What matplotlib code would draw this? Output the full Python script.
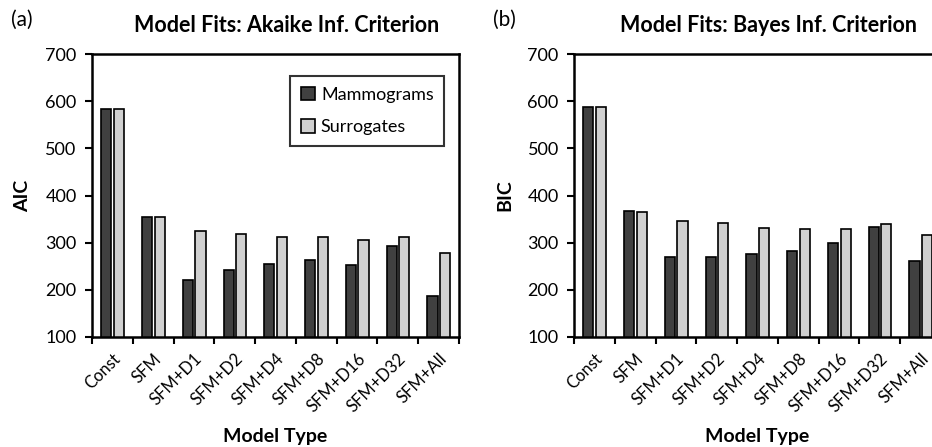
import matplotlib.pyplot as plt
import numpy as np

plt.rcParams['font.family'] = ['Lato', 'DejaVu Sans']

# datos
modelos = ["Const", "SFM", "SFM+D1", "SFM+D2", "SFM+D4", "SFM+D8", "SFM+D16", "SFM+D32", "SFM+All"]
aic_mamo = [583, 355, 220, 241, 255, 263, 253, 294, 187]
aic_surr = [583, 355, 325, 318, 311, 311, 305, 311, 279]
bic_mamo = [587, 368, 270, 270, 275, 283, 299, 334, 261]
bic_surr = [587, 366, 347, 341, 331, 328, 329, 340, 316]

oscuro = "#404040"
claro = "#d0d0d0"

fig = plt.figure(figsize=(9.32, 4.47), dpi=100)
ax1 = fig.add_axes([0.0987, 0.2461, 0.3938, 0.633])
ax2 = fig.add_axes([0.6159, 0.2461, 0.3938, 0.633])


def dibuja(ax, mamo, surr, titulo, ylab, letra, leyenda):
    x = np.arange(len(modelos))
    ax.bar(x - 0.15, mamo, width=0.25, color=oscuro, edgecolor="black", linewidth=1.2, label="Mammograms")
    ax.bar(x + 0.16, surr, width=0.25, color=claro, edgecolor="black", linewidth=1.2, label="Surrogates")
    ax.set_ylim(100, 700)
    ax.set_xlim(-0.5, len(modelos) - 0.5)
    ax.set_yticks(range(100, 701, 100))
    ax.set_xticks(np.arange(len(modelos) + 1) - 0.5, minor=False)
    ax.set_xticklabels([])
    ax.set_xticks(x, minor=True)
    ax.set_xticklabels(modelos, minor=True, rotation=45, ha="right", rotation_mode="anchor", fontsize=12)
    ax.tick_params(axis="x", which="minor", length=0, pad=10)
    ax.tick_params(axis="x", which="major", length=5, width=1.5, direction="out")
    ax.tick_params(axis="y", length=5, width=1.5, direction="out", labelsize=13, pad=6)
    for s in ax.spines.values():
        s.set_linewidth(1.8)
    ax.set_title(titulo, fontsize=15.5, fontweight="bold", pad=16, x=0.53)
    ax.set_ylabel(ylab, fontsize=14, fontweight="bold", labelpad=10)
    ax.set_xlabel("Model Type", fontsize=14, fontweight="bold", labelpad=9)
    ax.text(-0.22, 1.12, letra, transform=ax.transAxes, fontsize=15, va="center", ha="left")
    if leyenda:
        leg = ax.legend(loc="upper right", bbox_to_anchor=(0.985, 0.955), fontsize=13, frameon=True,
                        fancybox=False, edgecolor="black", handlelength=0.8, handleheight=0.8,
                        handletextpad=0.3, labelspacing=0.9, borderpad=0.6)
        leg.get_frame().set_linewidth(1.5)


dibuja(ax1, aic_mamo, aic_surr, "Model Fits: Akaike Inf. Criterion", "AIC", "(a)", True)
dibuja(ax2, bic_mamo, bic_surr, "Model Fits: Bayes Inf. Criterion", "BIC", "(b)", False)

fig.savefig("out.png", dpi=100)
